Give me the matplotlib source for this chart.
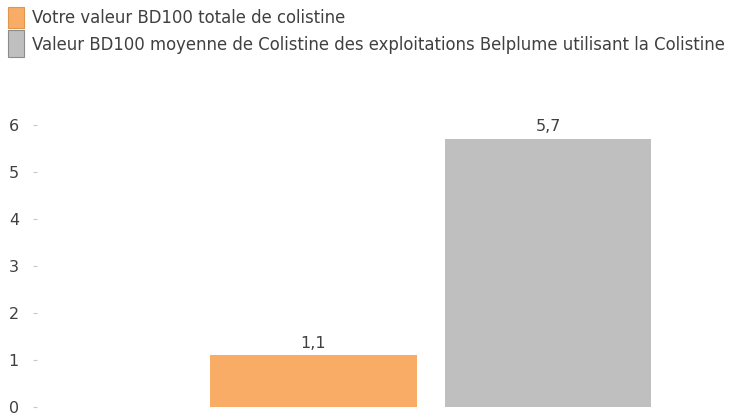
import matplotlib
matplotlib.use("Agg")
import matplotlib.pyplot as plt
from matplotlib.patches import Rectangle

plt.rcParams["font.family"] = ["DejaVu Sans"]

categories = ["Votre valeur BD100 totale de colistine",
              "Valeur BD100 moyenne de Colistine des exploitations Belplume utilisant la Colistine"]
values = [1.1, 5.7]
value_labels = ["1,1", "5,7"]
colors = ["#F9AC66", "#BFBFBF"]
yticks = [0, 1, 2, 3, 4, 5, 6]

W, H = 741, 418
fig = plt.figure(figsize=(W / 100, H / 100), dpi=100)
txt = "#404040"

left_px, right_px = 37, 741
bottom_px = 407
ymax = 6.3
unit_px = 47.0
top_px = bottom_px - ymax * unit_px
ax = fig.add_axes([left_px / W, (H - bottom_px) / H, (right_px - left_px) / W, (bottom_px - top_px) / H])

x = [0, 1]
ax.bar(x, values, width=0.88, color=colors, edgecolor="none")
for xi, v, lab in zip(x, values, value_labels):
    ax.text(xi, v + 0.1, lab, ha="center", va="bottom", fontsize=11.5, color=txt)

slot = 234.5
c0 = 313.5
ax.set_xlim(-(c0 - left_px) / slot, 1 + (right_px - (c0 + slot)) / slot)
ax.set_ylim(0, ymax)
ax.set_yticks(yticks)
ax.set_yticklabels([str(t) for t in yticks])
ax.set_xticks([])
for s in ax.spines.values():
    s.set_visible(False)
ax.tick_params(axis="y", length=3, color="#C8C8C8", labelsize=11.5, labelcolor=txt, pad=10)

def px_rect(x0, y0, w, h, fc, ec):
    fig.patches.append(Rectangle((x0 / W, 1 - (y0 + h) / H), w / W, h / H,
                                 transform=fig.transFigure, facecolor=fc, edgecolor=ec, linewidth=0.8))

px_rect(8, 7, 16, 21, colors[0], "#E0964F")
px_rect(8, 30, 16, 27, colors[1], "#8C8C8C")
fig.text(32 / W, 1 - 18 / H, categories[0], ha="left", va="center", fontsize=11.9, color=txt)
fig.text(32 / W, 1 - 45 / H, categories[1], ha="left", va="center", fontsize=11.9, color=txt)

fig.savefig("out.png", dpi=100)
